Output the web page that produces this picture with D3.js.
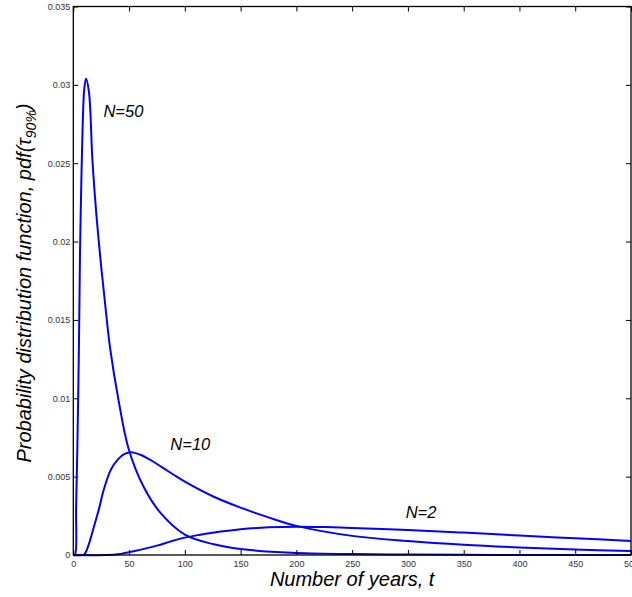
<!DOCTYPE html>
<html>
<head>
<meta charset="utf-8">
<script src="https://cdn.jsdelivr.net/npm/d3@7"></script>
<style>
  html, body { margin: 0; padding: 0; background: #fff; }
  svg { display: block; }
  text { font-family: "Liberation Sans", Arial, Helvetica, sans-serif; }
</style>
</head>
<body>
<svg id="chart" width="632" height="597"></svg>
<script>
// Years (t) at which each curve was sampled, with the pdf value at that t.
const tN50 = [0, 1.5, 2.5, 3.6, 5.0, 6.0, 7.0, 8.4, 9.8, 11.4, 14.1, 17.1, 20.5, 24.6, 29, 33, 40.5, 49.5, 62.7, 78, 100, 126, 150, 196, 250, 300, 350, 400, 450, 500];
const vN50 = [0, 0, 0.0030, 0.0067, 0.0131, 0.0192, 0.0231, 0.0274, 0.0297, 0.0304, 0.0295, 0.02525, 0.0219, 0.0187, 0.0157, 0.0132, 0.0099, 0.0068, 0.0044, 0.0027, 0.0013, 0.00068, 0.00038, 0.00014, 0.00006, 0.00003, 0.00001, 0.000005, 0, 0];

const tN10 = [0, 8, 10, 13.2, 17.7, 22.8, 27.3, 33.6, 40, 46, 52, 60, 70, 80, 90, 100, 125, 150, 175, 200, 250, 300, 350, 400, 450, 500];
const vN10 = [0, 0, 0.00005, 0.00053, 0.0016, 0.00288, 0.00416, 0.00543, 0.0061, 0.00645, 0.00656, 0.0064, 0.00603, 0.00558, 0.00512, 0.00468, 0.00375, 0.00302, 0.0024, 0.00186, 0.00122, 0.00089, 0.00065, 0.00048, 0.00035, 0.00026];

const tN2 = [0, 30, 40, 55, 75, 87.5, 100, 112.5, 125, 150, 175, 200, 225, 250, 300, 350, 400, 450, 500];
const vN2 = [0, 0, 0.00005, 0.00026, 0.0006, 0.00087, 0.00111, 0.00128, 0.00142, 0.00164, 0.00177, 0.00181, 0.00178, 0.00172, 0.0016, 0.00143, 0.00124, 0.00107, 0.0009];

const seriesNames = ["N=50", "N=10", "N=2"];

const xTicks = [0, 50, 100, 150, 200, 250, 300, 350, 400, 450, 500];
const yTicks = [0, 0.005, 0.01, 0.015, 0.02, 0.025, 0.03, 0.035];
const yTickLabels = ["0", "0.005", "0.01", "0.015", "0.02", "0.025", "0.03", "0.035"];

// Curve labels: placed at a (t, pdf) point in data space.
const labelT = [27, 87, 298];
const labelV = [0.02794, 0.00671, 0.00236];

const svg = d3.select("#chart");
const plot = { left: 73.3, right: 631, top: 6.5, bottom: 555 };

const x = d3.scaleLinear().domain([0, 500]).range([plot.left, plot.right]);
const y = d3.scaleLinear().domain([0, 0.035]).range([plot.bottom, plot.top]);

// Curves
const line = d3.line()
  .x(d => x(d[0]))
  .y(d => y(Math.max(0, d[1])))
  .curve(d3.curveCatmullRom.alpha(0.5));

const series = [d3.zip(tN50, vN50), d3.zip(tN10, vN10), d3.zip(tN2, vN2)];

svg.append("g")
  .selectAll("path")
  .data(series)
  .join("path")
  .attr("d", line)
  .attr("fill", "none")
  .attr("stroke", "#0000ff")
  .attr("stroke-width", 2)
  .attr("stroke-linejoin", "round");

// Axes, MATLAB style: ticks pointing inward on all four sides
const tickLen = 5;
function styleAxis(g) {
  g.select(".domain").remove();
  g.selectAll(".tick line").attr("stroke", "#000").attr("stroke-width", 1);
  g.selectAll(".tick text").attr("fill", "#333").attr("font-size", 9);
}

svg.append("g")
  .attr("transform", `translate(0,${plot.bottom})`)
  .call(d3.axisBottom(x).tickValues(xTicks).tickFormat(d3.format("d"))
    .tickSizeInner(-tickLen).tickSizeOuter(0).tickPadding(6))
  .call(styleAxis);

svg.append("g")
  .attr("transform", `translate(0,${plot.top})`)
  .call(d3.axisTop(x).tickValues(xTicks).tickFormat("")
    .tickSizeInner(-tickLen).tickSizeOuter(0))
  .call(styleAxis);

svg.append("g")
  .attr("transform", `translate(${plot.left},0)`)
  .call(d3.axisLeft(y).tickValues(yTicks).tickFormat((d, i) => yTickLabels[i])
    .tickSizeInner(-tickLen).tickSizeOuter(0).tickPadding(3))
  .call(styleAxis);

svg.append("g")
  .attr("transform", `translate(${plot.right},0)`)
  .call(d3.axisRight(y).tickValues(yTicks).tickFormat("")
    .tickSizeInner(-tickLen).tickSizeOuter(0))
  .call(styleAxis);

// Frame
svg.append("rect")
  .attr("x", plot.left)
  .attr("y", plot.top)
  .attr("width", plot.right - plot.left)
  .attr("height", plot.bottom - plot.top)
  .attr("fill", "none")
  .attr("stroke", "#000")
  .attr("stroke-width", 1.3);

// Curve labels
svg.append("g")
  .selectAll("text")
  .data(seriesNames)
  .join("text")
  .attr("x", (d, i) => x(labelT[i]))
  .attr("y", (d, i) => y(labelV[i]))
  .attr("font-size", 16.5)
  .attr("font-style", "italic")
  .attr("fill", "#000")
  .text(d => d);

// Axis titles
svg.append("text")
  .attr("x", (plot.left + plot.right) / 2)
  .attr("y", 586)
  .attr("text-anchor", "middle")
  .attr("font-size", 20)
  .attr("font-style", "italic")
  .attr("fill", "#000")
  .text("Number of years, t");

const yTitle = svg.append("text")
  .attr("transform", `translate(31,283) rotate(-90)`)
  .attr("text-anchor", "middle")
  .attr("font-size", 20)
  .attr("font-style", "italic")
  .attr("fill", "#000");
yTitle.append("tspan").text("Probability distribution function, pdf(\u03c4");
yTitle.append("tspan").attr("font-size", 14).attr("dy", 5).text("90%");
yTitle.append("tspan").attr("dy", -5).text(")");
</script>
</body>
</html>
